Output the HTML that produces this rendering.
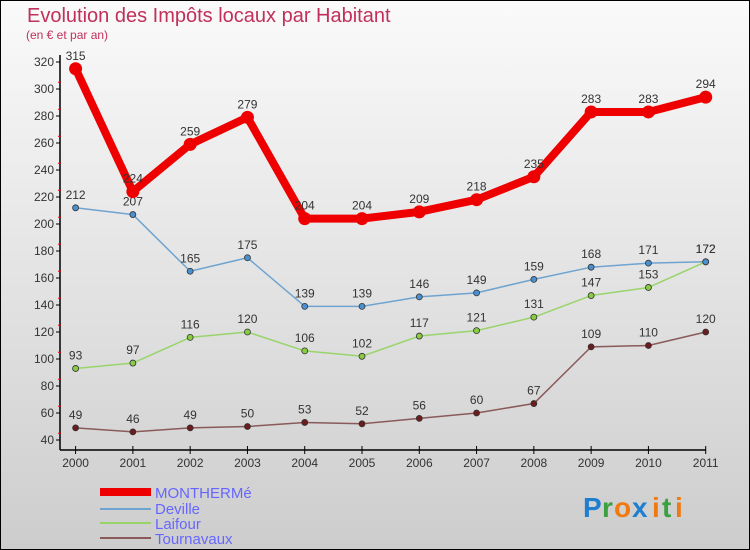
<!DOCTYPE html>
<html><head><meta charset="utf-8"><style>
body{margin:0;width:750px;height:550px;overflow:hidden;font-family:"Liberation Sans",sans-serif}
svg{display:block}
</style></head><body>
<svg id="c" width="750" height="550" xmlns="http://www.w3.org/2000/svg">
<defs><linearGradient id="bg" x1="0" y1="0" x2="0" y2="1"><stop offset="0" stop-color="#fafafa"/><stop offset="1" stop-color="#cdcdcd"/></linearGradient></defs>
<rect x="0.5" y="0.5" width="749" height="549" fill="url(#bg)" stroke="#000"/>
<text x="27" y="22" font-size="20" fill="#c0305a">Evolution des Impôts locaux par Habitant</text>
<text x="26" y="39" font-size="12" fill="#c0305a">(en € et par an)</text>
<g id="axes"></g><g id="series"></g>
<g>
<rect x="100" y="488" width="51" height="8" fill="#e00"/>
<text x="155" y="498" font-size="15" fill="#6666ff">MONTHERMé</text>
<line x1="100" y1="509" x2="151" y2="509" stroke="#6fa3d0" stroke-width="2"/>
<text x="155" y="514" font-size="15" fill="#6666ff">Deville</text>
<line x1="100" y1="523" x2="151" y2="523" stroke="#99d46a" stroke-width="2"/>
<text x="155" y="529" font-size="15" fill="#6666ff">Laifour</text>
<line x1="100" y1="538" x2="151" y2="538" stroke="#8a5a5a" stroke-width="2"/>
<text x="155" y="544" font-size="15" fill="#6666ff">Tournavaux</text>
</g>
<g font-size="28" font-weight="bold" font-family="Liberation Sans,sans-serif">
<text x="583" y="517" fill="#1e7fd0">P</text><text x="602" y="517" fill="#3aa040">r</text><text x="614" y="517" fill="#f07a10">o</text><text x="632" y="517" fill="#1e7fd0">x</text><text x="652" y="517" fill="#f07a10">i</text><text x="662" y="517" fill="#3aa040">t</text><text x="675" y="517" fill="#f07a10">i</text>
</g>
</svg>
<script>
const years=[2000,2001,2002,2003,2004,2005,2006,2007,2008,2009,2010,2011];
const yTicks=[40,60,80,100,120,140,160,180,200,220,240,260,280,300,320];
const montherme=[315,224,259,279,204,204,209,218,235,283,283,294];
const deville=[212,207,165,175,139,139,146,149,159,168,171,172];
const laifour=[93,97,116,120,106,102,117,121,131,147,153,172];
const tournavaux=[49,46,49,50,53,52,56,60,67,109,110,120];
const NS="http://www.w3.org/2000/svg";
const xS=i=>75.6+i*(705.7-75.6)/11;
const yS=v=>440-(v-40)*(440-62)/280;
function mk(t,a,p){const e=document.createElementNS(NS,t);for(const k in a)e.setAttribute(k,a[k]);p.appendChild(e);return e;}
const ax=document.getElementById('axes');
mk('line',{x1:60,y1:55,x2:60,y2:450,stroke:'#000','stroke-width':1.5},ax);
mk('line',{x1:60,y1:450,x2:706,y2:450,stroke:'#000','stroke-width':1.5},ax);
yTicks.forEach(v=>{const y=yS(v);
mk('line',{x1:56,y1:y,x2:60,y2:y,stroke:'#000'},ax);
if(v<320)mk('line',{x1:58,y1:y-6.75,x2:61,y2:y-6.75,stroke:'#e00'},ax);
const t=mk('text',{x:54,y:y+4,'font-size':12,fill:'#333','text-anchor':'end'},ax);


t.textContent=v;});
years.forEach((yr,i)=>{const x=xS(i);
mk('line',{x1:x,y1:446,x2:x,y2:454,stroke:'#000'},ax);
const t=mk('text',{x:x,y:467,'font-size':12,fill:'#333','text-anchor':'middle'},ax);


t.textContent=yr;});
const sg=document.getElementById('series');
function series(name,data,color,w,r,dot){
const g=mk('g',{},sg);


mk('polyline',{points:data.map((v,i)=>xS(i)+','+yS(v)).join(' '),fill:'none',stroke:color,'stroke-width':w,'stroke-linejoin':'round'},g);
data.forEach((v,i)=>{const c=mk('circle',{cx:xS(i),cy:yS(v),r:r,fill:dot,stroke:'#333','stroke-width':r>4?0:0.8},g);


const t=mk('text',{x:xS(i),y:yS(v)-9,'font-size':12,fill:'#333','text-anchor':'middle'},g);


t.textContent=v;});}
series('tournavaux',tournavaux,'#8a5a5a',1.5,3,'#6b1c1c');
series('laifour',laifour,'#99d46a',1.5,3,'#88cc44');
series('deville',deville,'#6fa3d0',1.5,3,'#4a90d0');
series('montherme',montherme,'#e00',8,6.5,'#e00');
</script>
</body></html>
